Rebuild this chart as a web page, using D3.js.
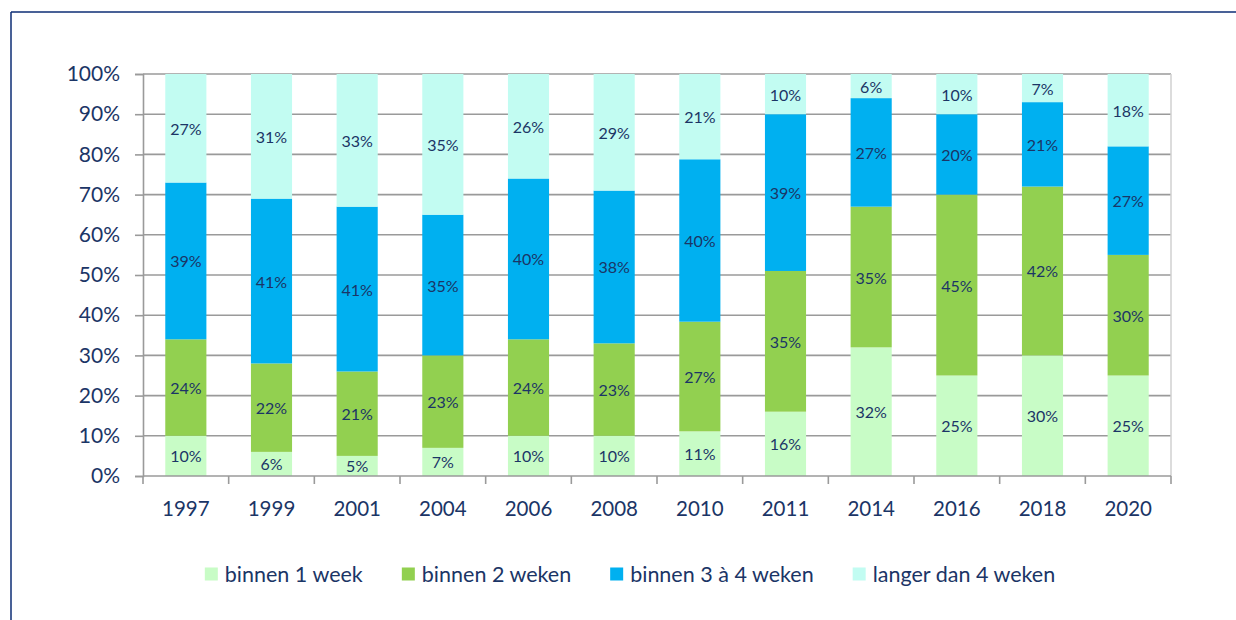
<!DOCTYPE html>
<html>
<head>
<meta charset="utf-8">
<script src="https://cdn.jsdelivr.net/npm/d3@7"></script>
<style>
  html, body { margin: 0; padding: 0; background: #fff; }
  svg { display: block; }
  text { font-family: Lato, "Open Sans", sans-serif; fill: #1b3566; }
</style>
</head>
<body>
<svg id="chart" width="1236" height="620"></svg>
<script>
const years = ["1997","1999","2001","2004","2006","2008","2010","2011","2014","2016","2018","2020"];
const seriesNames = ["binnen 1 week","binnen 2 weken","binnen 3 à 4 weken","langer dan 4 weken"];
const week1  = [10, 6, 5, 7, 10, 10, 11, 16, 32, 25, 30, 25];
const weeks2 = [24, 22, 21, 23, 24, 23, 27, 35, 35, 45, 42, 30];
const weeks34= [39, 41, 41, 35, 40, 38, 40, 39, 27, 20, 21, 27];
const longer = [27, 31, 33, 35, 26, 29, 21, 10, 6, 10, 7, 18];
const yTicks = [0,10,20,30,40,50,60,70,80,90,100];
const colors = ["#c8fcc6", "#92d050", "#00b0f0", "#c2fcf2"];

const svg = d3.select("#chart");
const W = 1236, H = 620;
const margin = {left: 143, right: 1236 - 1171, top: 74, bottom: 620 - 476};

// frame
svg.append("line").attr("x1", 11).attr("x2", W).attr("y1", 12).attr("y2", 12)
  .attr("stroke", "#0d2c74").attr("stroke-width", 1.5);
svg.append("line").attr("x1", 11).attr("x2", 11).attr("y1", 12).attr("y2", H)
  .attr("stroke", "#0d2c74").attr("stroke-width", 1.5);

const x = d3.scaleBand().domain(years).range([margin.left, W - margin.right]).paddingInner(0.52).paddingOuter(0.26);
const y = d3.scaleLinear().domain([0, 100]).range([H - margin.bottom, margin.top]);

const rows = years.map((yr, i) => {
  const vals = [week1[i], weeks2[i], weeks34[i], longer[i]];
  const tot = d3.sum(vals);
  const o = {year: yr};
  seriesNames.forEach((s, j) => { o[s] = vals[j] / tot * 100; o[s + "_lab"] = vals[j]; });
  return o;
});
const stacked = d3.stack().keys(seriesNames)(rows);

// gridlines
svg.append("g").selectAll("line").data(yTicks.filter(t => t > 0)).join("line")
  .attr("x1", margin.left).attr("x2", W - margin.right)
  .attr("y1", d => y(d)).attr("y2", d => y(d))
  .attr("stroke", "#9a9a9a").attr("stroke-width", 1.6);

// right border
svg.append("line").attr("x1", W - margin.right).attr("x2", W - margin.right)
  .attr("y1", y(100)).attr("y2", y(0)).attr("stroke", "#d0d0d0").attr("stroke-width", 1.5);

// bars
const g = svg.append("g");
stacked.forEach((layer, j) => {
  g.append("g").selectAll("rect").data(layer).join("rect")
    .attr("x", d => x(d.data.year))
    .attr("width", x.bandwidth())
    .attr("y", d => y(d[1]))
    .attr("height", d => y(d[0]) - y(d[1]))
    .attr("fill", colors[j]);
});

// data labels
stacked.forEach((layer, j) => {
  g.append("g").selectAll("text").data(layer).join("text")
    .attr("x", d => x(d.data.year) + x.bandwidth() / 2)
    .attr("y", d => (y(d[0]) + y(d[1])) / 2)
    .attr("text-anchor", "middle").attr("dominant-baseline", "central")
    .attr("font-size", 16)
    .text(d => d.data[layer.key + "_lab"] + "%");
});

// y axis
const yAxis = d3.axisLeft(y).tickValues(yTicks).tickFormat(d => d + "%").tickSize(8).tickPadding(15);
const ya = svg.append("g").attr("transform", `translate(${margin.left},0)`).call(yAxis);
ya.select(".domain").attr("stroke", "#9a9a9a").attr("stroke-width", 1.6);
ya.selectAll(".tick line").attr("stroke", "#9a9a9a").attr("stroke-width", 1.6);
ya.selectAll(".tick text").attr("font-size", 21).attr("fill", "#1b3566")
  .style("font-family", "Lato, 'Open Sans', sans-serif");

// x axis
const xa = svg.append("g").attr("transform", `translate(0,${y(0)})`);
xa.append("line").attr("x1", margin.left).attr("x2", W - margin.right)
  .attr("y1", 0).attr("y2", 0).attr("stroke", "#9a9a9a").attr("stroke-width", 1.6);
const boundaries = d3.range(years.length + 1).map(i => margin.left + i * (W - margin.right - margin.left) / years.length);
xa.selectAll(".bt").data(boundaries).join("line")
  .attr("x1", d => d).attr("x2", d => d).attr("y1", 0).attr("y2", 8)
  .attr("stroke", "#9a9a9a").attr("stroke-width", 1.6);
xa.selectAll(".xl").data(years).join("text")
  .attr("x", d => x(d) + x.bandwidth() / 2).attr("y", 32)
  .attr("text-anchor", "middle").attr("dominant-baseline", "central")
  .attr("font-size", 20.5).text(d => d);

// legend
const leg = svg.append("g");
const items = leg.selectAll("g").data(seriesNames).join("g");
items.append("rect").attr("width", 13).attr("height", 13).attr("y", -6.5)
  .attr("fill", (d, i) => colors[i]);
items.append("text").attr("x", 20).attr("y", 0).attr("dominant-baseline", "central")
  .attr("font-size", 21.5).text(d => d);
let cx = 0;
const pos = [];
items.each(function(d) {
  const w = this.getBBox().width;
  pos.push(cx);
  cx += w + 39;
});
const total = cx - 39;
const startX = 630 - total / 2;
items.attr("transform", (d, i) => `translate(${startX + pos[i]},574)`);
</script>
</body>
</html>
